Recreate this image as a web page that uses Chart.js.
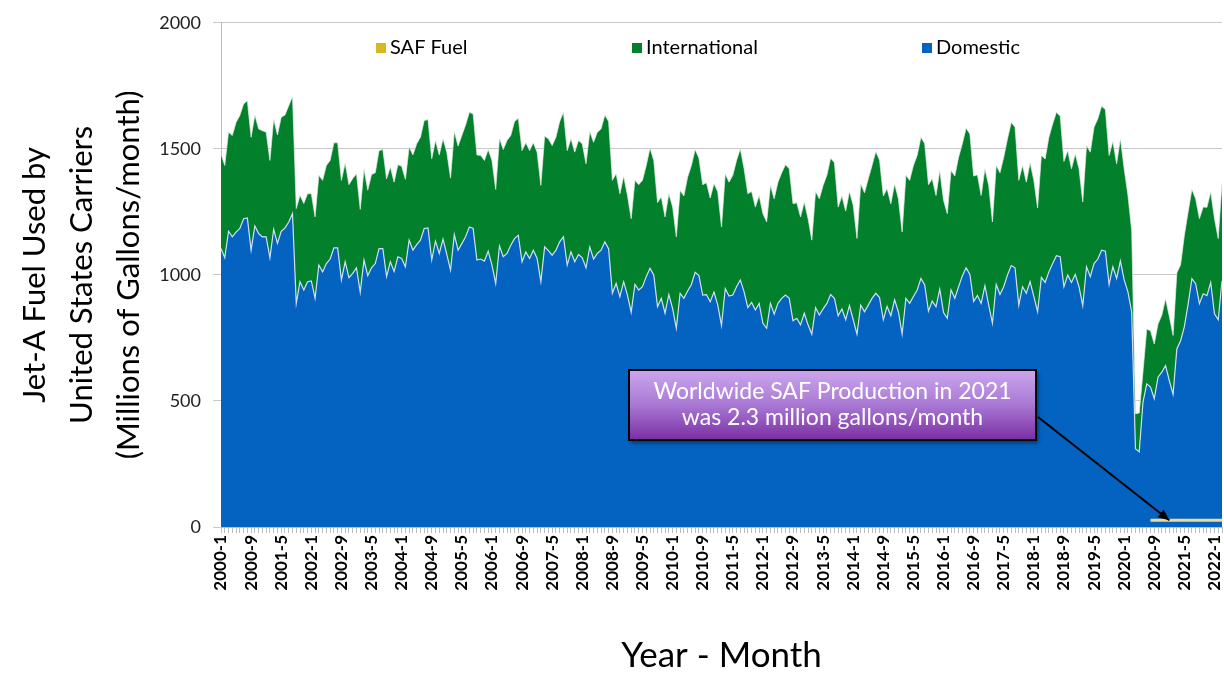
<!DOCTYPE html>
<html>
<head>
<meta charset="utf-8">
<script src="https://cdn.jsdelivr.net/npm/chart.js@4.4.1/dist/chart.umd.min.js"></script>
<style>
html,body{margin:0;padding:0;background:#ffffff;}
#wrap{width:1224px;height:673px;position:relative;}
</style>
</head>
<body>
<div id="wrap"><canvas id="c" width="1224" height="673"></canvas></div>
<script>
// ---------------- DATA ----------------
const firstYear = 2000;
const monthCount = 267; // 2000-1 .. 2022-3
const months = [];
for (let k = 0; k < monthCount; k++) {
  months.push((firstYear + Math.floor(k / 12)) + '-' + (k % 12 + 1));
}

const tickLabels = ['2000-1','2000-9','2001-5','2002-1','2002-9','2003-5','2004-1','2004-9',
  '2005-5','2006-1','2006-9','2007-5','2008-1','2008-9','2009-5','2010-1','2010-9','2011-5',
  '2012-1','2012-9','2013-5','2014-1','2014-9','2015-5','2016-1','2016-9','2017-5','2018-1',
  '2018-9','2019-5','2020-1','2020-9','2021-5','2022-1'];

const domestic = [
  1105,1068,1173,1151,1170,1184,1223,1226,1098,1194,1164,1151,
  1151,1068,1181,1125,1173,1186,1210,1243,887,973,940,973,
  976,907,1039,1012,1045,1063,1107,1107,980,1052,989,1006,
  1028,931,1059,997,1028,1045,1104,1104,993,1052,1013,1072,
  1065,1032,1138,1098,1120,1138,1184,1186,1059,1134,1085,1142,
  1081,1019,1160,1098,1124,1151,1190,1184,1059,1063,1055,1094,
  1039,966,1115,1072,1085,1118,1144,1157,1052,1091,1065,1098,
  1065,973,1111,1096,1078,1098,1131,1151,1039,1091,1052,1081,
  1068,1028,1111,1063,1085,1098,1131,1104,927,966,914,973,
  920,852,962,940,953,993,1026,1000,874,907,848,922,
  867,788,927,907,936,962,1010,997,920,922,893,932,
  881,799,946,916,920,953,980,933,870,891,861,887,
  808,788,887,844,887,907,920,907,818,828,802,848,
  802,765,870,841,865,887,922,907,838,865,822,878,
  822,765,880,854,880,907,927,910,822,875,838,901,
  854,765,907,887,914,940,986,960,856,896,874,943,
  851,828,940,907,953,996,1028,1002,894,918,887,957,
  880,808,962,922,953,1000,1037,1028,880,953,927,973,
  914,854,990,970,1012,1045,1076,1072,953,999,970,1002,
  953,878,1032,993,1045,1063,1098,1094,962,1032,986,1055,
  980,933,852,311,298,495,568,555,509,594,614,640,
  581,526,706,739,795,884,985,965,886,925,918,970,
  846,822,976
];

const international = [
  375,366,393,402,435,448,455,465,448,440,415,421,
  415,386,437,430,452,448,461,465,376,343,343,349,
  346,323,356,363,389,391,417,417,395,392,369,376,
  373,329,362,339,370,360,389,393,388,376,355,365,
  366,347,369,378,400,408,428,430,402,399,391,398,
  406,365,409,413,429,444,455,454,417,411,399,403,
  415,373,427,425,448,435,464,464,441,433,428,426,
  422,382,439,444,435,448,477,494,454,449,435,452,
  452,413,458,463,481,481,503,504,448,435,408,418,
  396,371,413,418,422,441,477,454,413,402,382,400,
  403,363,408,406,452,472,487,466,438,444,412,430,
  449,391,455,452,475,501,520,488,452,440,408,428,
  435,422,468,458,481,498,517,514,464,458,428,441,
  421,373,461,461,490,508,541,538,431,448,431,453,
  454,379,481,472,501,527,562,545,491,467,444,460,
  448,405,488,488,520,534,560,560,502,485,441,471,
  445,415,474,485,514,524,554,557,498,479,428,464,
  475,402,472,483,514,540,568,558,495,481,441,472,
  461,411,484,490,534,554,569,557,497,494,451,478,
  468,411,481,494,541,556,571,562,512,497,455,485,
  441,383,323,138,154,120,217,223,217,211,226,265,
  254,234,302,301,362,366,354,337,337,344,350,359,
  377,322,390
];

const safMonths = ['2020-8','2020-9','2020-10','2020-11','2020-12',
  '2021-1','2021-2','2021-3','2021-4','2021-5','2021-6','2021-7','2021-8','2021-9','2021-10','2021-11','2021-12',
  '2022-1','2022-2','2022-3'];
const safFuel = [27,27,27,27,27,27,27,27,27,27,27,27,27,27,27,27,27,27,27,27];

const noteLines = ['Worldwide SAF Production in 2021', 'was 2.3 million gallons/month'];
const noteTarget = '2021-1';

// ---------------- STYLE ----------------
const FONT = 'Lato, "Open Sans", sans-serif';
const BLUE = '#0462C0';
const GREEN = '#03802C';
const SAF_LEGEND = '#D8B81E';
const SAF_LINE = '#F1DA8E';

const tickSet = new Set(tickLabels);

const decor = {
  id: 'decor',
  afterDraw(chart) {
    const ctx = chart.ctx;
    const xs = chart.scales.x, ys = chart.scales.y;
    ctx.save();
    // legend (inside plot area)
    const items = [
      {text: 'SAF Fuel', color: SAF_LEGEND, x: 376},
      {text: 'International', color: GREEN, x: 632},
      {text: 'Domestic', color: BLUE, x: 922}
    ];
    ctx.font = '20px ' + FONT;
    ctx.textBaseline = 'middle';
    ctx.textAlign = 'left';
    items.forEach(it => {
      ctx.fillStyle = it.color;
      ctx.fillRect(it.x, 43, 10, 10);
      ctx.fillStyle = '#000';
      ctx.fillText(it.text, it.x + 14, 48);
    });

    // annotation box
    const bx = 629, by = 370, bw = 407, bh = 70;
    const g = ctx.createLinearGradient(0, by, 0, by + bh);
    g.addColorStop(0, '#CCA6EE');
    g.addColorStop(0.5, '#A978D4');
    g.addColorStop(1, '#7A2EA2');
    ctx.save();
    ctx.shadowColor = 'rgba(0,0,0,0.45)';
    ctx.shadowBlur = 4;
    ctx.shadowOffsetX = 2;
    ctx.shadowOffsetY = 3;
    ctx.fillStyle = g;
    ctx.fillRect(bx, by, bw, bh);
    ctx.restore();
    ctx.lineWidth = 2;
    ctx.strokeStyle = '#000';
    ctx.strokeRect(bx, by, bw, bh);
    ctx.fillStyle = '#fff';
    ctx.font = '23px ' + FONT;
    ctx.textAlign = 'center';
    ctx.textBaseline = 'middle';
    ctx.fillText(noteLines[0], bx + bw / 2, by + 22);
    ctx.fillText(noteLines[1], bx + bw / 2, by + 48);

    // arrow to SAF line
    const tx = xs.getPixelForValue(months.indexOf(noteTarget));
    const ty = ys.getPixelForValue(safFuel[0]);
    const sx = bx + bw + 2, sy = by + 47;
    ctx.strokeStyle = '#000';
    ctx.lineWidth = 2;
    ctx.beginPath();
    ctx.moveTo(sx, sy);
    ctx.lineTo(tx, ty);
    ctx.stroke();
    const ang = Math.atan2(ty - sy, tx - sx);
    const L = 11, W = 5;
    ctx.fillStyle = '#000';
    ctx.beginPath();
    ctx.moveTo(tx, ty);
    ctx.lineTo(tx - L * Math.cos(ang) + W * Math.sin(ang), ty - L * Math.sin(ang) - W * Math.cos(ang));
    ctx.lineTo(tx - L * Math.cos(ang) - W * Math.sin(ang), ty - L * Math.sin(ang) + W * Math.cos(ang));
    ctx.closePath();
    ctx.fill();
    ctx.restore();
  }
};

new Chart(document.getElementById('c'), {
  type: 'line',
  data: {
    labels: months,
    datasets: [
      {
        label: 'SAF Fuel',
        data: safMonths.map((m, k) => ({x: m, y: safFuel[k]})),
        borderColor: SAF_LINE,
        backgroundColor: SAF_LEGEND,
        borderWidth: 3,
        pointRadius: 0,
        fill: false,
        stack: 'saf'
      },
      {
        label: 'Domestic',
        data: domestic,
        borderColor: 'rgba(214,228,248,0.95)',
        backgroundColor: BLUE,
        borderWidth: 1.2,
        pointRadius: 0,
        fill: 'origin',
        stack: 'main'
      },
      {
        label: 'International',
        data: international,
        borderColor: 'rgba(225,238,228,0.7)',
        backgroundColor: GREEN,
        borderWidth: 1,
        pointRadius: 0,
        fill: '-1',
        stack: 'main'
      }
    ]
  },
  options: {
    responsive: false,
    animation: false,
    devicePixelRatio: 1,
    layout: {padding: {top: 21, right: 2, left: 0, bottom: 0}},
    elements: {line: {tension: 0}},
    plugins: {legend: {display: false}, tooltip: {enabled: false}},
    scales: {
      x: {
        type: 'category',
        offset: false,
        grid: {display: true, drawOnChartArea: false, drawTicks: true, tickLength: 6, color: '#bdbdbd'},
        border: {color: '#bdbdbd'},
        ticks: {
          autoSkip: false,
          minRotation: 90,
          maxRotation: 90,
          padding: 2,
          color: '#000',
          font: {family: FONT, size: 17, weight: 'bold'},
          callback: function(v, i) { return tickSet.has(months[i]) ? months[i] : ''; }
        },
        title: {
          display: true,
          text: 'Year - Month',
          color: '#000',
          font: {family: FONT, size: 35, lineHeight: 1.0},
          padding: {top: 0, bottom: 0}
        },
        afterFit: s => { s.height = 146; s.paddingLeft = 0; s.paddingRight = 0; }
      },
      y: {
        stacked: true,
        min: 0,
        max: 2000,
        grid: {color: '#c8c8c8', tickLength: 8},
        border: {color: '#bdbdbd'},
        ticks: {
          stepSize: 500, padding: 12, color: '#222', font: {family: FONT, size: 18},
          callback: v => String(v)
        },
        title: {
          display: true,
          text: ['Jet-A Fuel Used by', 'United States Carriers', '(Millions of Gallons/month)'],
          color: '#000',
          font: {family: FONT, size: 31, lineHeight: 1.52},
          padding: {top: 11, bottom: 0}
        },
        afterFit: s => { s.width = 221; }
      }
    }
  },
  plugins: [decor]
});
</script>
</body>
</html>
